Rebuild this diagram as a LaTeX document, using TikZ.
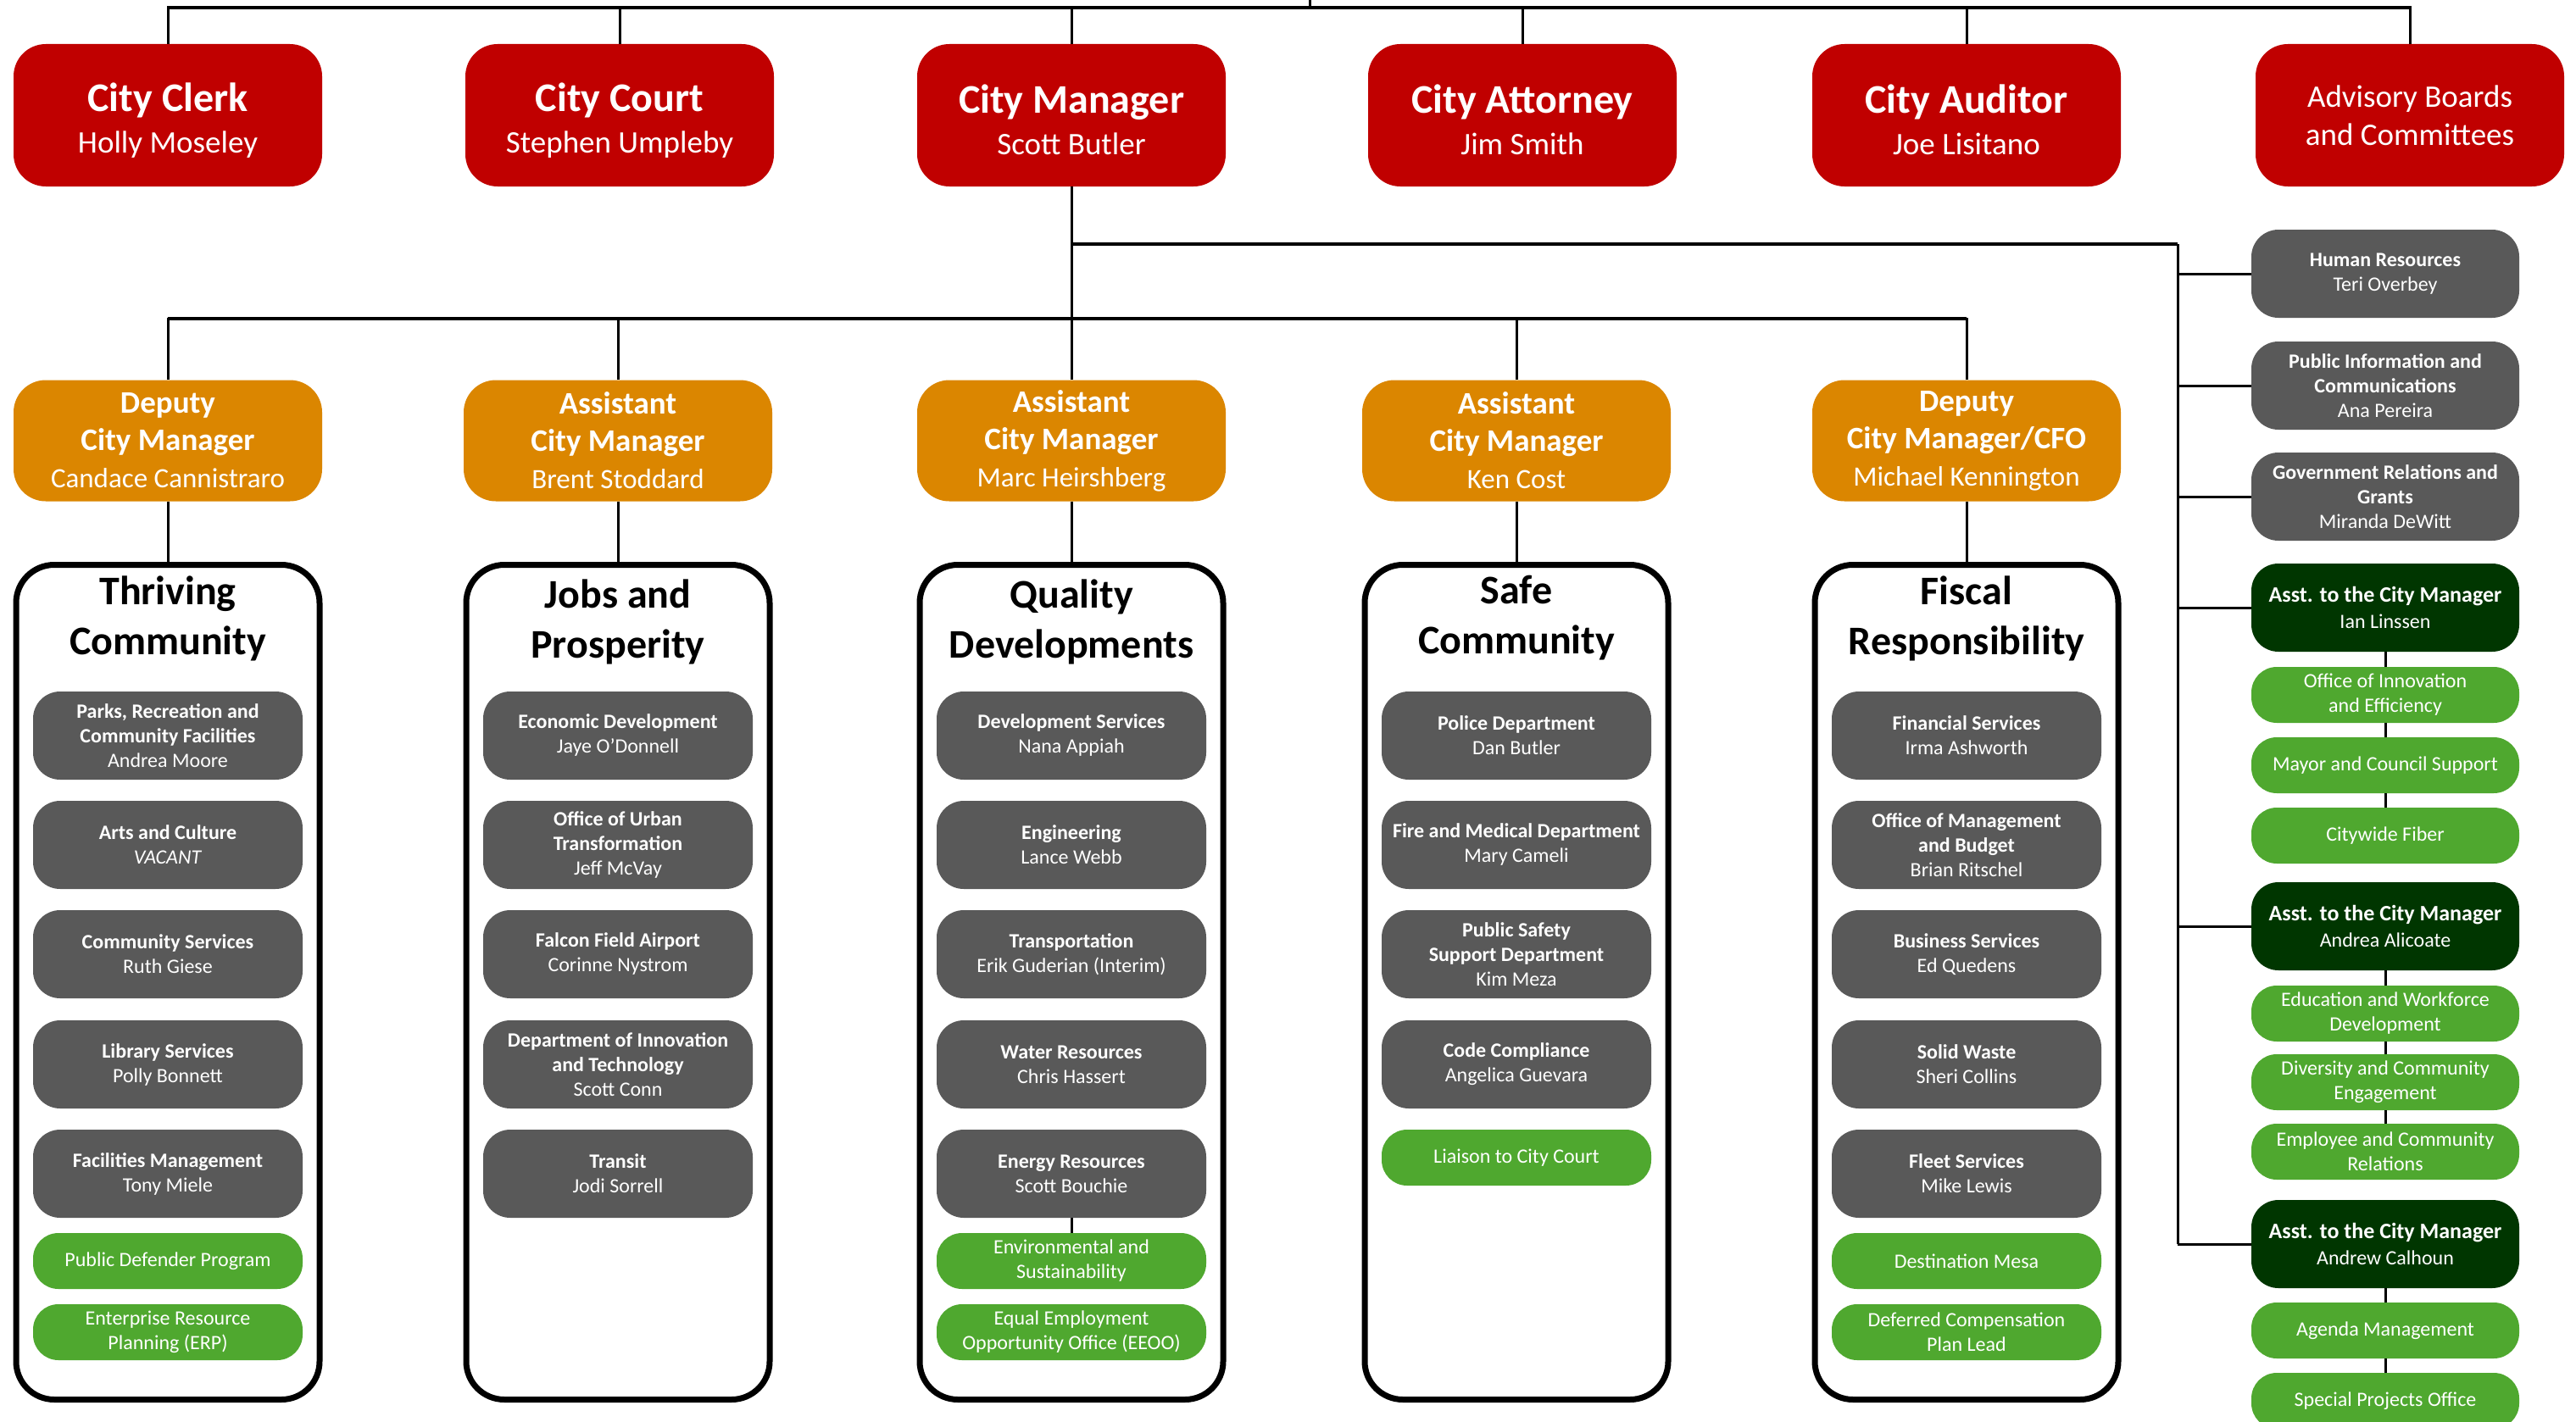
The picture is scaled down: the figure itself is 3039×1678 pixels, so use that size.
\documentclass[tikz,border=0pt]{standalone}
\usepackage{fontspec}
\setmainfont{Carlito}
\definecolor{cmred}{HTML}{C00000}
\definecolor{cmorange}{HTML}{DB8600}
\definecolor{cmgray}{HTML}{595959}
\definecolor{cmgreen}{HTML}{4FA82F}
\definecolor{cmdark}{HTML}{003600}
\newcommand{\bigttl}[1]{{\fontsize{48}{48}\selectfont\bfseries\rule{0pt}{45pt}#1}}
\newcommand{\midttl}[1]{{\fontsize{37}{44}\selectfont\bfseries #1}}
\newcommand{\asttl}[1]{{\fontsize{26}{31}\selectfont\bfseries #1}}
\begin{document}
\begin{tikzpicture}[x=1pt,y=-1pt,
  conn/.style={line width=3pt,black},
  hconn/.style={line width=4pt,black},
  box/.style={text=white, align=center, inner sep=0pt},
  redbox/.style={box, fill=cmred, rounded corners=38pt, minimum width=364pt, minimum height=168pt, font=\fontsize{37}{49}\selectfont},
  orgbox/.style={box, fill=cmorange, rounded corners=38pt, minimum width=364pt, minimum height=143pt, font=\fontsize{33}{44}\selectfont},
  catbox/.style={draw=black, line width=7pt, fill=white, rounded corners=45pt, minimum width=358pt, minimum height=985pt, inner sep=0pt},
  cattitle/.style={align=center, font=\fontsize{48}{59}\selectfont\bfseries, inner sep=0pt},
  graybox/.style={box, fill=cmgray, rounded corners=32pt, minimum width=318pt, minimum height=104pt, font=\fontsize{24}{29}\selectfont},
  greenbox/.style={box, fill=cmgreen, rounded corners=30pt, minimum width=318pt, minimum height=66pt, font=\fontsize{24}{29}\selectfont},
  darkbox/.style={box, fill=cmdark, rounded corners=32pt, minimum width=316pt, minimum height=104pt, font=\fontsize{24}{31}\selectfont},
  sidebox/.style={graybox, minimum width=316pt},
  sidegreen/.style={greenbox, minimum width=316pt},
]
\useasboundingbox (0,0) rectangle (3039,1678);
\fill[white] (0,0) rectangle (3039,1678);

% ---------- elected / appointed officials ----------
\node[redbox] (clerk) at (198,136) {\bigttl{City Clerk}\\Holly Moseley};
\node[redbox] (court) at (731,136) {\bigttl{City Court}\\Stephen Umpleby};
\node[redbox] (cm)    at (1264,136) {\bigttl{City Manager}\\Scott Butler};
\node[redbox] (atty)  at (1796,136) {\bigttl{City Attorney}\\Jim Smith};
\node[redbox] (aud)   at (2320,136) {\bigttl{City Auditor}\\Joe Lisitano};
\node[redbox, font=\fontsize{37}{45}\selectfont] (adv) at (2843,136) {Advisory Boards\\and Committees};

\coordinate (bar) at (1545,9);
\coordinate (stub) at (1545,-10);
\foreach \n in {clerk,court,cm,atty,aud,adv}
  \draw[conn] (\n.north) |- (bar);
\draw[hconn] (clerk.north |- bar) -- (adv.north |- bar);
\draw[conn] (bar) -- (stub);

% ---------- deputy / assistant city managers ----------
\node[orgbox] (dcm)  at (198,520)  {\midttl{Deputy}\\\midttl{City Manager}\\Candace Cannistraro};
\node[orgbox] (acm1) at (729,520)  {\midttl{Assistant}\\\midttl{City Manager}\\Brent Stoddard};
\node[orgbox] (acm2) at (1264,520) {\midttl{Assistant}\\\midttl{City Manager}\\Marc Heirshberg};
\node[orgbox] (acm3) at (1789,520) {\midttl{Assistant}\\\midttl{City Manager}\\Ken Cost};
\node[orgbox] (cfo)  at (2320,520) {\midttl{Deputy}\\\midttl{City Manager/CFO}\\Michael Kennington};

\coordinate (obar) at (1264,376);
\draw[conn] (cm.south) -- (acm2.north);
\foreach \n in {dcm,acm1,acm3,cfo}
  \draw[conn] (\n.north) |- (obar);
\draw[hconn] (dcm.north |- obar) -- (cfo.north |- obar);

% ---------- strategic priority groups ----------
\node[catbox] (thr) at (198,1159)  {};
\node[catbox] (job) at (729,1159)  {};
\node[catbox] (qua) at (1264,1159) {};
\node[catbox] (saf) at (1789,1159) {};
\node[catbox] (fis) at (2320,1159) {};
\draw[conn] (dcm.south)  -- (thr.north);
\draw[conn] (acm1.south) -- (job.north);
\draw[conn] (acm2.south) -- (qua.north);
\draw[conn] (acm3.south) -- (saf.north);
\draw[conn] (cfo.south)  -- (fis.north);

\node[cattitle] (thrT) at (198,730)  {Thriving\\Community};
\node[cattitle] (jobT) at (729,734)  {Jobs and\\Prosperity};
\node[cattitle] (quaT) at (1264,734) {Quality\\Developments};
\node[cattitle] (safT) at (1789,729) {Safe\\Community};
\node[cattitle] (fisT) at (2320,730) {Fiscal\\Responsibility};

% Thriving Community
\node[graybox] (t1) at (198,868)  {\textbf{Parks, Recreation and}\\\textbf{Community Facilities}\\Andrea Moore};
\node[graybox] (t2) at (198,997)  {\textbf{Arts and Culture}\\\textit{VACANT}};
\node[graybox] (t3) at (198,1126) {\textbf{Community Services}\\Ruth Giese};
\node[graybox] (t4) at (198,1256) {\textbf{Library Services}\\Polly Bonnett};
\node[graybox] (t5) at (198,1385) {\textbf{Facilities Management}\\Tony Miele};
\node[greenbox] (t6) at (198,1488) {Public Defender Program};
\node[greenbox] (t7) at (198,1572) {Enterprise Resource\\Planning (ERP)};

% Jobs and Prosperity
\node[graybox] (j1) at (729,868)  {\textbf{Economic Development}\\Jaye O’Donnell};
\node[graybox] (j2) at (729,997)  {\textbf{Office of Urban}\\\textbf{Transformation}\\Jeff McVay};
\node[graybox] (j3) at (729,1126) {\textbf{Falcon Field Airport}\\Corinne Nystrom};
\node[graybox] (j4) at (729,1256) {\textbf{Department of Innovation}\\\textbf{and Technology}\\Scott Conn};
\node[graybox] (j5) at (729,1385) {\textbf{Transit}\\Jodi Sorrell};

% Quality Developments
\node[graybox] (q1) at (1264,868)  {\textbf{Development Services}\\Nana Appiah};
\node[graybox] (q2) at (1264,997)  {\textbf{Engineering}\\Lance Webb};
\node[graybox] (q3) at (1264,1126) {\textbf{Transportation}\\Erik Guderian (Interim)};
\node[graybox] (q4) at (1264,1256) {\textbf{Water Resources}\\Chris Hassert};
\node[graybox] (q5) at (1264,1385) {\textbf{Energy Resources}\\Scott Bouchie};
\node[greenbox] (q6) at (1264,1488) {Environmental and\\Sustainability};
\node[greenbox] (q7) at (1264,1572) {Equal Employment\\Opportunity Office (EEOO)};
\draw[conn] (q5.south) -- (q6.north);

% Safe Community
\node[graybox] (s1) at (1789,868)  {\textbf{Police Department}\\Dan Butler};
\node[graybox] (s2) at (1789,997)  {\textbf{Fire and Medical Department}\\Mary Cameli};
\node[graybox] (s3) at (1789,1126) {\textbf{Public Safety}\\\textbf{Support Department}\\Kim Meza};
\node[graybox] (s4) at (1789,1256) {\textbf{Code Compliance}\\Angelica Guevara};
\node[greenbox] (s5) at (1789,1366) {Liaison to City Court};

% Fiscal Responsibility
\node[graybox] (f1) at (2320,868)  {\textbf{Financial Services}\\Irma Ashworth};
\node[graybox] (f2) at (2320,997)  {\textbf{Office of Management}\\\textbf{and Budget}\\Brian Ritschel};
\node[graybox] (f3) at (2320,1126) {\textbf{Business Services}\\Ed Quedens};
\node[graybox] (f4) at (2320,1256) {\textbf{Solid Waste}\\Sheri Collins};
\node[graybox] (f5) at (2320,1385) {\textbf{Fleet Services}\\Mike Lewis};
\node[greenbox] (f6) at (2320,1488) {Destination Mesa};
\node[greenbox] (f7) at (2320,1572) {Deferred Compensation\\Plan Lead};

% ---------- City Manager's office ----------
\node[sidebox] (hr)  at (2814,323) {\textbf{Human Resources}\\Teri Overbey};
\node[sidebox] (pic) at (2814,455) {\textbf{Public Information and}\\\textbf{Communications}\\Ana Pereira};
\node[sidebox] (grg) at (2814,586) {\textbf{Government Relations and}\\\textbf{Grants}\\Miranda DeWitt};

\node[darkbox] (ian) at (2814,717) {\asttl{Asst. to the City Manager}\\Ian Linssen};
\node[sidegreen] (oie) at (2814,820) {Office of Innovation\\and Efficiency};
\node[sidegreen] (mcs) at (2814,903) {Mayor and Council Support};
\node[sidegreen] (cwf) at (2814,986) {Citywide Fiber};

\node[darkbox] (and) at (2814,1093) {\asttl{Asst. to the City Manager}\\Andrea Alicoate};
\node[sidegreen] (ewd) at (2814,1196) {Education and Workforce\\Development};
\node[sidegreen] (dce) at (2814,1277) {Diversity and Community\\Engagement};
\node[sidegreen] (ecr) at (2814,1359) {Employee and Community\\Relations};

\node[darkbox] (cal) at (2814,1468) {\asttl{Asst. to the City Manager}\\Andrew Calhoun};
\node[sidegreen] (agm) at (2814,1570) {Agenda Management};
\node[sidegreen] (spo) at (2814,1653) {Special Projects Office};

\coordinate (rb) at (2569,288);
\draw[hconn] (cm.south |- rb) -- (rb);
\draw[conn] (rb) -- (rb |- cal.west);
\foreach \n in {hr,pic,grg,ian,and,cal}
  \draw[conn] (rb |- \n.west) -- (\n.west);
\draw[conn] (ian.south) -- (oie.north);
\draw[conn] (oie.south) -- (mcs.north);
\draw[conn] (mcs.south) -- (cwf.north);
\draw[conn] (and.south) -- (ewd.north);
\draw[conn] (ewd.south) -- (dce.north);
\draw[conn] (dce.south) -- (ecr.north);
\draw[conn] (cal.south) -- (agm.north);
\draw[conn] (agm.south) -- (spo.north);
\end{tikzpicture}
\end{document}
